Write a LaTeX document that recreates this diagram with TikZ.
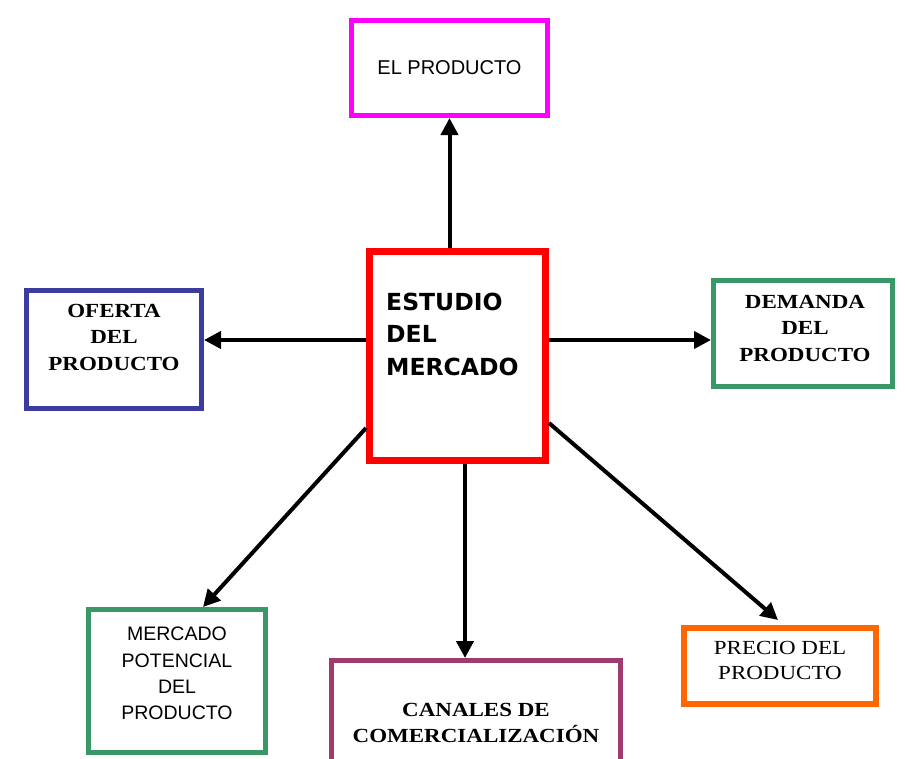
\documentclass[tikz,border=0pt]{standalone}
\usepackage{fontspec}
\usetikzlibrary{arrows.meta}
\newfontfamily\tahoma{Liberation Sans}
\newfontfamily\verdana{DejaVu Sans}
\newfontfamily\romano[FakeStretch=1.15]{Liberation Serif}
\definecolor{fucsia}{RGB}{255,0,255}
\definecolor{azul}{RGB}{60,60,158}
\definecolor{verde}{RGB}{58,152,104}
\definecolor{morado}{RGB}{158,60,110}
\definecolor{naranja}{RGB}{255,102,0}
\begin{document}
\begin{tikzpicture}[x=1pt, y=-1pt]
\tikzstyle{caja}=[draw, line width=5pt, fill=white, inner sep=0pt]
\tikzstyle{flecha}=[line width=4pt, -{Triangle[length=17pt, width=17pt]}]
\tikzstyle{sans}=[font=\tahoma\fontsize{20}{26.3}\selectfont, align=center]
\tikzstyle{serif}=[font=\romano\bfseries\fontsize{20}{26.5}\selectfont, align=center]
\useasboundingbox (0,0) rectangle (905,758);

% cajas
\node[caja, draw=red, line width=7pt, minimum width=176pt, minimum height=209pt] (est) at (457.5,356) {};
\node[caja, draw=fucsia, minimum width=196pt, minimum height=95pt, sans] (prod) at (449.5,68) {EL PRODUCTO};
\node[caja, draw=azul, minimum width=175pt, minimum height=118pt] (ofe) at (114,349.5) {};
\node[caja, draw=verde, minimum width=179pt, minimum height=106pt] (dem) at (803,333.5) {};
\node[caja, draw=verde, minimum width=177pt, minimum height=143pt] (pot) at (177,681) {};
\node[caja, draw=morado, minimum width=289pt, minimum height=130pt] (can) at (476,725.5) {};
\node[caja, draw=naranja, line width=6pt, minimum width=192pt, minimum height=76pt] (pre) at (780,666) {};

% textos
\node[font=\verdana\bfseries\fontsize{23.5}{32.5}\selectfont, align=left, anchor=base west, inner sep=0pt] (est-t) at (386,375) {ESTUDIO\\DEL\\MERCADO};
\node[serif] (ofe-t) at ([yshift=12.5pt]ofe.center) {OFERTA\\DEL\\PRODUCTO};
\node[serif] (dem-t) at ([xshift=2pt, yshift=5.5pt]dem.center) {DEMANDA\\DEL\\PRODUCTO};
\node[sans, font=\tahoma\fontsize{19.5}{26.3}\selectfont] (pot-t) at ([yshift=7.5pt]pot.center) {MERCADO\\POTENCIAL\\DEL\\PRODUCTO};
\node[serif] (can-t) at (476,723) {CANALES DE\\COMERCIALIZACIÓN};
\node[serif, font=\romano\fontsize{20}{25}\selectfont] (pre-t) at ([yshift=5.5pt]pre.center) {PRECIO DEL\\PRODUCTO};

% flechas
\coordinate (ei) at ([yshift=16pt]est.west);
\coordinate (ed) at ([yshift=16pt]est.east);
\coordinate (eb) at ([xshift=7.5pt]est.south);
\coordinate (esi) at ([yshift=-72pt]est.west);
\coordinate (esd) at ([yshift=-67pt]est.east);
\draw[flecha] (est.north -| prod.south) -- (prod.south);
\draw[flecha] (ei) -- (ei -| ofe.east);
\draw[flecha] (ed) -- (ed -| dem.west);
\draw[flecha] (eb) -- (eb |- can.north);
\draw[flecha] (esi) -- ([xshift=26pt]pot.north);
\draw[flecha] (esd) -- ([xshift=-2pt, yshift=5pt]pre.north);
\end{tikzpicture}
\end{document}
